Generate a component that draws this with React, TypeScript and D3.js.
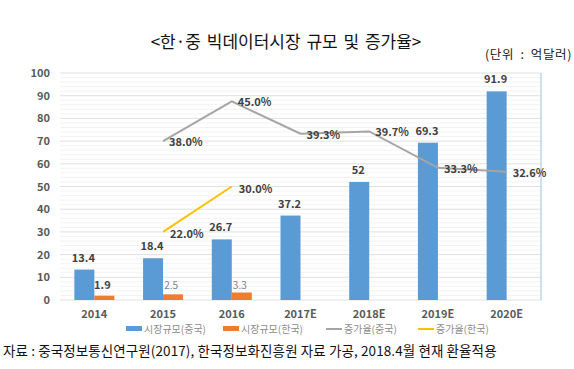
import { useMemo } from "react";
import * as d3 from "d3";

// market size (억달러)
const years = ["2014", "2015", "2016", "2017E", "2018E", "2019E", "2020E"];
const chinaSize = [13.4, 18.4, 26.7, 37.2, 52, 69.3, 91.9];
const koreaSize: (number | null)[] = [1.9, 2.5, 3.3, null, null, null, null];
const koreaSizeLabels = ["1.9", "2.5", "3.3"];
// growth rate (%)
const chinaGrowth: (number | null)[] = [null, 38.0, 45.0, 39.3, 39.7, 33.3, 32.6];
const koreaGrowth: (number | null)[] = [null, 22.0, 30.0, null, null, null, null];
const yTicks = [0, 10, 20, 30, 40, 50, 60, 70, 80, 90, 100];

const legendItems = [
  { label: "시장규모(중국)", color: "#5b9bd5", type: "bar" },
  { label: "시장규모(한국)", color: "#ed7d31", type: "bar" },
  { label: "증가율(중국)", color: "#a5a5a5", type: "line" },
  { label: "증가율(한국)", color: "#ffc000", type: "line" },
];

const W = 574;
const H = 369;
const font = "'Noto Sans CJK KR', 'Noto Sans', sans-serif";

export default function App() {
  const margin = { left: 60, right: 33, top: 73, bottom: 69 };

  const x = useMemo(
    () => d3.scaleBand().domain(years).range([margin.left, W - margin.right]).paddingInner(0).paddingOuter(0),
    []
  );
  const y = d3.scaleLinear().domain([0, 100]).range([H - margin.bottom, margin.top]);
  // hidden secondary axis for growth rate
  const y2 = d3.scaleLinear().domain([10, 50]).range([H - margin.bottom, margin.top]);

  const barW = 20;
  const minorTicks = d3.range(0, 101, 2).filter((v) => v % 10 !== 0);

  const lineGen = d3
    .line<[string, number | null]>()
    .defined((d) => d[1] !== null)
    .x((d) => x(d[0])! + x.bandwidth() / 2)
    .y((d) => y2(d[1] as number));

  const chinaPts = years.map((yr, i) => [yr, chinaGrowth[i]] as [string, number | null]);
  const koreaPts = years.map((yr, i) => [yr, koreaGrowth[i]] as [string, number | null]);

  const legendX = [126, 223, 326, 418];

  return (
    <div style={{ position: "absolute", left: 0, top: 0 }}>
      <svg width={W} height={H} style={{ display: "block", fontFamily: font }}>
        <rect width={W} height={H} fill="#fff" />
        <text x={286} y={48} textAnchor="middle" fontSize={17} fill="#111" wordSpacing={2}>
          {"<한·중 빅데이터시장 규모 및 증가율>"}
        </text>
        <text x={572} y={59} textAnchor="end" fontSize={12.5} fill="#222" wordSpacing={3} letterSpacing={0.6}>
          (단위 : 억달러)
        </text>

        {/* gridlines */}
        {minorTicks.map((t) => (
          <line key={"m" + t} x1={margin.left} x2={W - margin.right} y1={y(t)} y2={y(t)} stroke="#f3f3f3" strokeWidth={1} />
        ))}
        {yTicks.map((t) => (
          <line key={t} x1={margin.left} x2={W - margin.right} y1={y(t)} y2={y(t)} stroke="#e0e0e0" strokeWidth={1} />
        ))}
        <line x1={W - margin.right} x2={W - margin.right} y1={y(100)} y2={y(0)} stroke="#9dc3e6" strokeWidth={1} />

        {yTicks.map((t) => (
          <text key={"l" + t} x={50} y={y(t) + 4} textAnchor="end" fontSize={11} fontWeight={600} fill="#595959">
            {t}
          </text>
        ))}

        {/* bars */}
        {years.map((yr, i) => {
          const cx = x(yr)! + x.bandwidth() / 2;
          return (
            <g key={yr}>
              <rect x={cx - barW} y={y(chinaSize[i])} width={barW} height={y(0) - y(chinaSize[i])} fill="#5b9bd5" />
              <text x={cx - barW / 2 - 1} y={y(chinaSize[i]) - 8} textAnchor="middle" fontSize={11} fontWeight={700} fill="#404040">
                {chinaSize[i]}
              </text>
              {koreaSize[i] !== null && (
                <>
                  <rect x={cx} y={y(koreaSize[i]!)} width={barW} height={y(0) - y(koreaSize[i]!)} fill="#ed7d31" />
                  <text
                    x={cx + barW / 2 - 2}
                    y={y(0) - 11}
                    textAnchor="middle"
                    fontSize={i === 0 ? 11 : 10}
                    fontWeight={i === 0 ? 700 : 400}
                    fill={i === 0 ? "#404040" : "#7f7f7f"}
                  >
                    {koreaSizeLabels[i]}
                  </text>
                </>
              )}
              <text x={cx} y={y(0) + 18} textAnchor="middle" fontSize={11} fontWeight={700} fill="#595959">
                {yr}
              </text>
            </g>
          );
        })}

        {/* growth lines */}
        <path d={lineGen(chinaPts) ?? ""} fill="none" stroke="#a5a5a5" strokeWidth={2} />
        <path d={lineGen(koreaPts) ?? ""} fill="none" stroke="#ffc000" strokeWidth={2} />
        {chinaPts.map(([yr, v]) =>
          v === null ? null : (
            <text key={"cg" + yr} x={x(yr)! + x.bandwidth() / 2 + 6} y={y2(v) + 5} fontSize={11} fontWeight={600} fill="#404040">
              {v.toFixed(1)}%
            </text>
          )
        )}
        {koreaPts.map(([yr, v]) =>
          v === null ? null : (
            <text key={"kg" + yr} x={x(yr)! + x.bandwidth() / 2 + 7} y={y2(v) + 6} fontSize={11} fontWeight={600} fill="#404040">
              {v.toFixed(1)}%
            </text>
          )
        )}

        {/* legend */}
        {legendItems.map((it, i) => (
          <g key={it.label} transform={`translate(${legendX[i]},329)`}>
            {it.type === "bar" ? (
              <rect x={0} y={-3} width={16} height={5} fill={it.color} />
            ) : (
              <line x1={0} x2={16} y1={0} y2={0} stroke={it.color} strokeWidth={2} />
            )}
            <text x={18} y={4} fontSize={10} fill="#8c8c8c">
              {it.label}
            </text>
          </g>
        ))}

        <text x={3} y={356} fontSize={13.5} fill="#111" letterSpacing={0.1}>
          자료 : 중국정보통신연구원(2017), 한국정보화진흥원 자료 가공, 2018.4월 현재 환율적용
        </text>
      </svg>
    </div>
  );
}
